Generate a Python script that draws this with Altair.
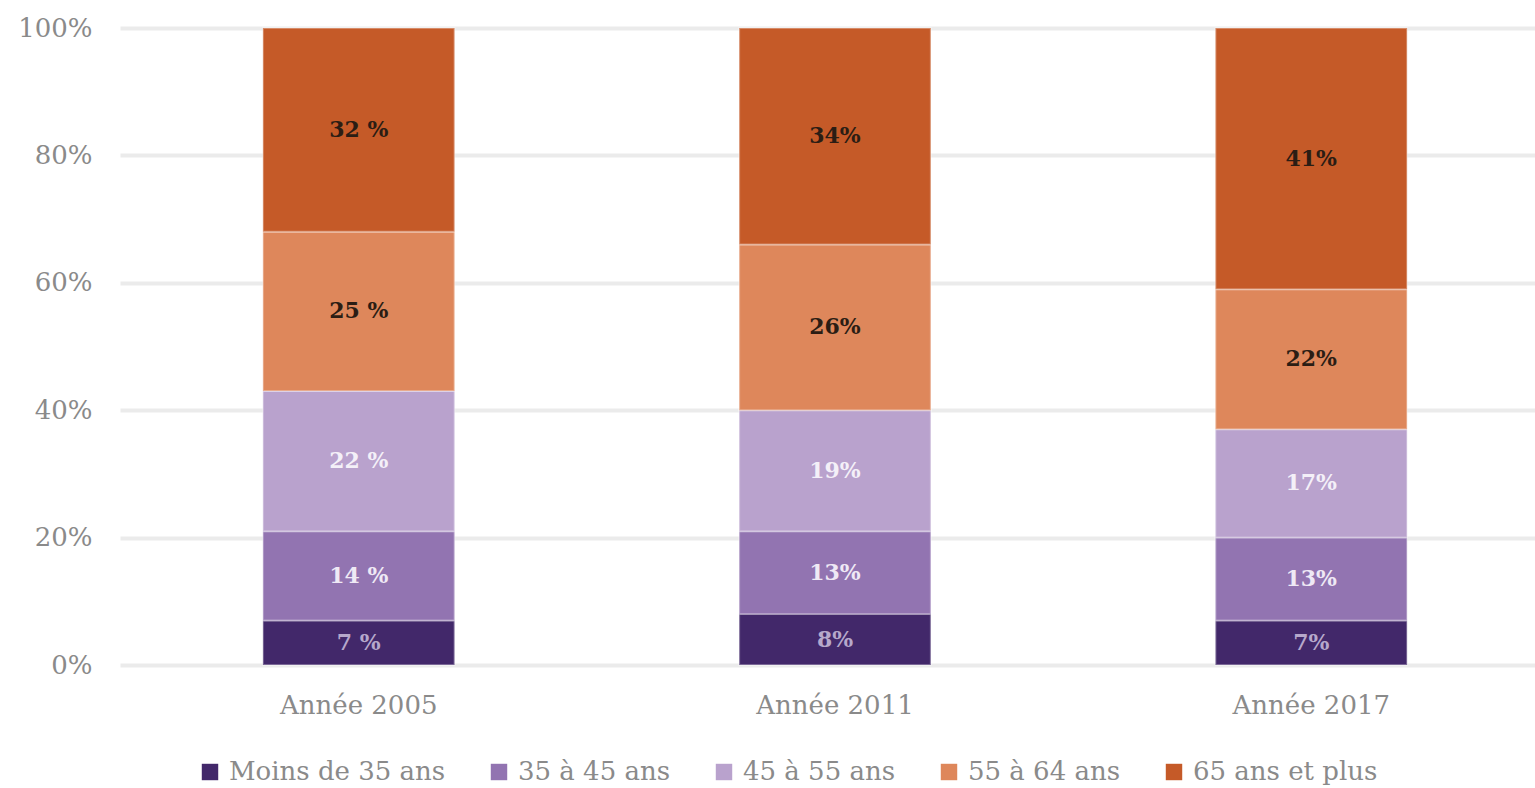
import altair as alt
import pandas as pd

years = ["Année 2005", "Année 2011", "Année 2017"]
groups = ["Moins de 35 ans", "35 à 45 ans", "45 à 55 ans", "55 à 64 ans", "65 ans et plus"]
v2005 = [7, 14, 22, 25, 32]
v2011 = [8, 13, 19, 26, 34]
v2017 = [7, 13, 17, 22, 41]
label_sep = [" ", "", ""]  # 2005 labels show a space before %

colors = ["#42286a", "#9274b1", "#b9a2cd", "#de875b", "#c55a28"]
text_colors = ["#b6a8cb", "#efe9f5", "#f4f0f8", "#2b1d14", "#2b1d14"]

rows = []
for yi, (yr, vals) in enumerate(zip(years, [v2005, v2011, v2017])):
    for gi, (g, v) in enumerate(zip(groups, vals)):
        rows.append({"annee": yr, "groupe": g, "rang": gi, "valeur": v,
                     "label": f"{v}{label_sep[yi]}%", "tcolor": text_colors[gi]})
df = pd.DataFrame(rows)

FONT = "DejaVu Serif"

x = alt.X("annee:N", sort=years, title=None,
          scale=alt.Scale(range=[0, 1430], paddingInner=0.5975, paddingOuter=0.3),
          axis=alt.Axis(labelAngle=0, ticks=False, domain=False, labelPadding=27,
                        labelFont=FONT, labelFontSize=26, labelColor="#8a8a8a"))

base = alt.Chart(df).transform_stack(
    stack="valeur", groupby=["annee"], sort=[alt.SortField("rang", "ascending")],
    as_=["y0", "y1"]
).transform_calculate(ymid="(datum.y0 + datum.y1) / 2")

bars = base.mark_bar(stroke="white", strokeWidth=2, strokeOpacity=0.3).encode(
    x=x,
    y=alt.Y("y0:Q", title=None,
            scale=alt.Scale(domain=[0, 100], nice=False),
            axis=alt.Axis(values=[0, 20, 40, 60, 80, 100], labelExpr="datum.value + '%'",
                          ticks=False, domain=False, labelPadding=28,
                          labelFont=FONT, labelFontSize=26, labelColor="#8a8a8a",
                          gridColor="#ebebeb", gridWidth=4)),
    y2="y1:Q",
    color=alt.Color("groupe:N", sort=groups, title=None,
                    scale=alt.Scale(domain=groups, range=colors),
                    legend=alt.Legend(orient="none", direction="horizontal",
                                      legendX=77, legendY=731,
                                      symbolType="square", symbolSize=270,
                                      symbolStrokeWidth=0, symbolOpacity=1,
                                      labelFont=FONT, labelFontSize=26, labelLimit=0,
                                      labelColor="#8a8a8a", labelOffset=6,
                                      columnPadding=40)),
)

labels = base.mark_text(font=FONT, fontSize=22, fontWeight="bold", baseline="middle").encode(
    x=alt.X("annee:N", sort=years),
    y=alt.Y("ymid:Q"),
    text="label:N",
    color=alt.Color("tcolor:N", scale=None),
)

chart = alt.layer(bars, labels).properties(
    width=1415, height=637,
    autosize=alt.AutoSizeParams(type="none"),
    padding={"left": 120, "top": 28, "right": 0, "bottom": 123},
).configure_view(stroke=None)

chart.save("out.html", embed_options={"renderer": "svg", "actions": False})
